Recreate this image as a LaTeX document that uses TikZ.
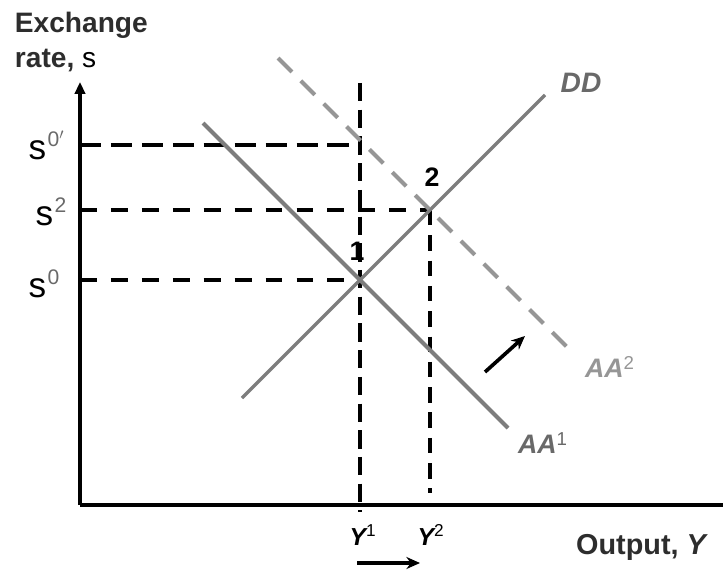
\documentclass[tikz,border=0pt]{standalone}
\usepackage{fontspec}
\setmainfont{Liberation Sans}
\usepackage{xcolor}
\usepackage{tikz}
\usetikzlibrary{arrows.meta,positioning,calc}
\definecolor{curvegray}{RGB}{125,125,125}
\definecolor{shiftgray}{RGB}{150,150,150}
\definecolor{labelgray}{RGB}{105,105,105}
\definecolor{axistext}{RGB}{45,45,45}

\begin{document}
\begin{tikzpicture}[x=0.25cm, y=0.25cm]
    \useasboundingbox (-8,-6.4) rectangle (64.3,50.5);
    % Axes
    \coordinate (O) at (0,0);
    \coordinate (ytop) at (0,42.3);
    \coordinate (xend) at (64.3,0);
    \draw[line width=2.8pt, -{Triangle[length=3mm,width=2.6mm]}] (O) -- (ytop);
    \draw[line width=2.8pt] (O) -- (xend);
    \node[font=\fontsize{20}{23}\selectfont\bfseries, text=axistext, anchor=west] (ylab1) at (-7.0,48) {Exchange};
    \node[font=\fontsize{20}{23}\selectfont\bfseries, text=axistext, anchor=west] (ylab2) at (-7.0,44.4) {rate, \textcolor{black}{\mdseries s}};
    \node[font=\fontsize{20.5}{23}\selectfont\bfseries, text=axistext, anchor=east] (xlab) at (63.3,-4.2) {Output, \textit{Y}};
    % Equilibrium points
    \coordinate (E1) at (28,22.5);
    \coordinate (E2) at (35,29.5);
    \node[font=\fontsize{19}{22}\selectfont\bfseries] (one) at (27.7,25.4) {1};
    \node[font=\fontsize{19}{22}\selectfont\bfseries] (two) at (35.2,32.8) {2};
    % Dashed guide lines
    \coordinate (s0p) at (0,36);
    \coordinate (s2) at (0,29.5);
    \coordinate (s0) at (0,22.5);
    \coordinate (Y1top) at (28,42.2);
    \coordinate (Y1bot) at (28,-0.7);
    \coordinate (Y2bot) at (35,1.2);
    \draw[line width=2.6pt, dash pattern=on 15pt off 7pt] (s0p) -- (s0p -| E1);
    \draw[line width=2.6pt, dash pattern=on 12pt off 10pt] (s2) -- (E2);
    \draw[line width=2.6pt, dash pattern=on 12pt off 10pt] (s0) -- (E1);
    \draw[line width=2.6pt, dash pattern=on 13pt off 6pt] (Y1top) -- (Y1bot);
    \draw[line width=2.6pt, dash pattern=on 11pt off 7pt] (E2) -- (Y2bot);
    % Curves
    \coordinate (DDa) at (16.2,10.7);
    \coordinate (DDb) at (46.5,41);
    \coordinate (AA1a) at (12.3,38.2);
    \coordinate (AA1b) at (42.8,7.7);
    \coordinate (AA2a) at (19.8,44.7);
    \coordinate (AA2b) at (49.5,15);
    \draw[line width=2.4pt, curvegray] (DDa) -- (DDb);
    \draw[line width=2.8pt, curvegray] (AA1a) -- (AA1b);
    \draw[line width=2.8pt, shiftgray, dash pattern=on 14pt off 9pt] (AA2a) -- (AA2b);
    \node[font=\fontsize{20}{23}\selectfont\bfseries\itshape, text=labelgray] (ddlab) at (50.1,42.2) {DD};
    \node[font=\fontsize{19}{22}\selectfont\bfseries\itshape, text=shiftgray] (aa2lab) at (53,13.8) {AA\textsuperscript{\mdseries\upshape 2}};
    \node[font=\fontsize{19}{22}\selectfont\bfseries\itshape, text=labelgray] (aa1lab) at (46.3,6.2) {AA\textsuperscript{\mdseries\upshape 1}};
    % Tick labels
    \node[font=\fontsize{25}{28}\selectfont, anchor=east] (s0plab) at (-1.0,36.0) {s\textsuperscript{\kern1pt\textcolor{labelgray}{\fontsize{15}{17}\selectfont 0$'$}}};
    \node[font=\fontsize{25}{28}\selectfont, anchor=east] (s2lab) at (-0.8,29.3) {s\textsuperscript{\kern1pt\textcolor{labelgray}{\fontsize{15}{17}\selectfont 2}}};
    \node[font=\fontsize{25}{28}\selectfont, anchor=east] (s0lab) at (-1.5,22.1) {s\textsuperscript{\kern1pt\textcolor{labelgray}{\fontsize{15}{17}\selectfont 0}}};
    \node[font=\fontsize{17.5}{20}\selectfont\bfseries\itshape] (Y1lab) at (28.3,-3.0) {Y\textsuperscript{\mdseries\upshape 1}};
    \node[font=\fontsize{17.5}{20}\selectfont\bfseries\itshape] (Y2lab) at (35.1,-3.0) {Y\textsuperscript{\mdseries\upshape 2}};
    % Shift arrows
    \coordinate (sha) at (40.5,13.3);
    \coordinate (shb) at (44.5,16.9);
    \coordinate (ya) at (27.7,-5.8);
    \coordinate (yb) at (34,-5.8);
    \draw[line width=2.6pt, -{Stealth[length=3.4mm,width=3mm]}] (sha) -- (shb);
    \draw[line width=2.6pt, -{Stealth[length=3.4mm,width=3mm]}] (ya) -- (yb);
\end{tikzpicture}
\end{document}
